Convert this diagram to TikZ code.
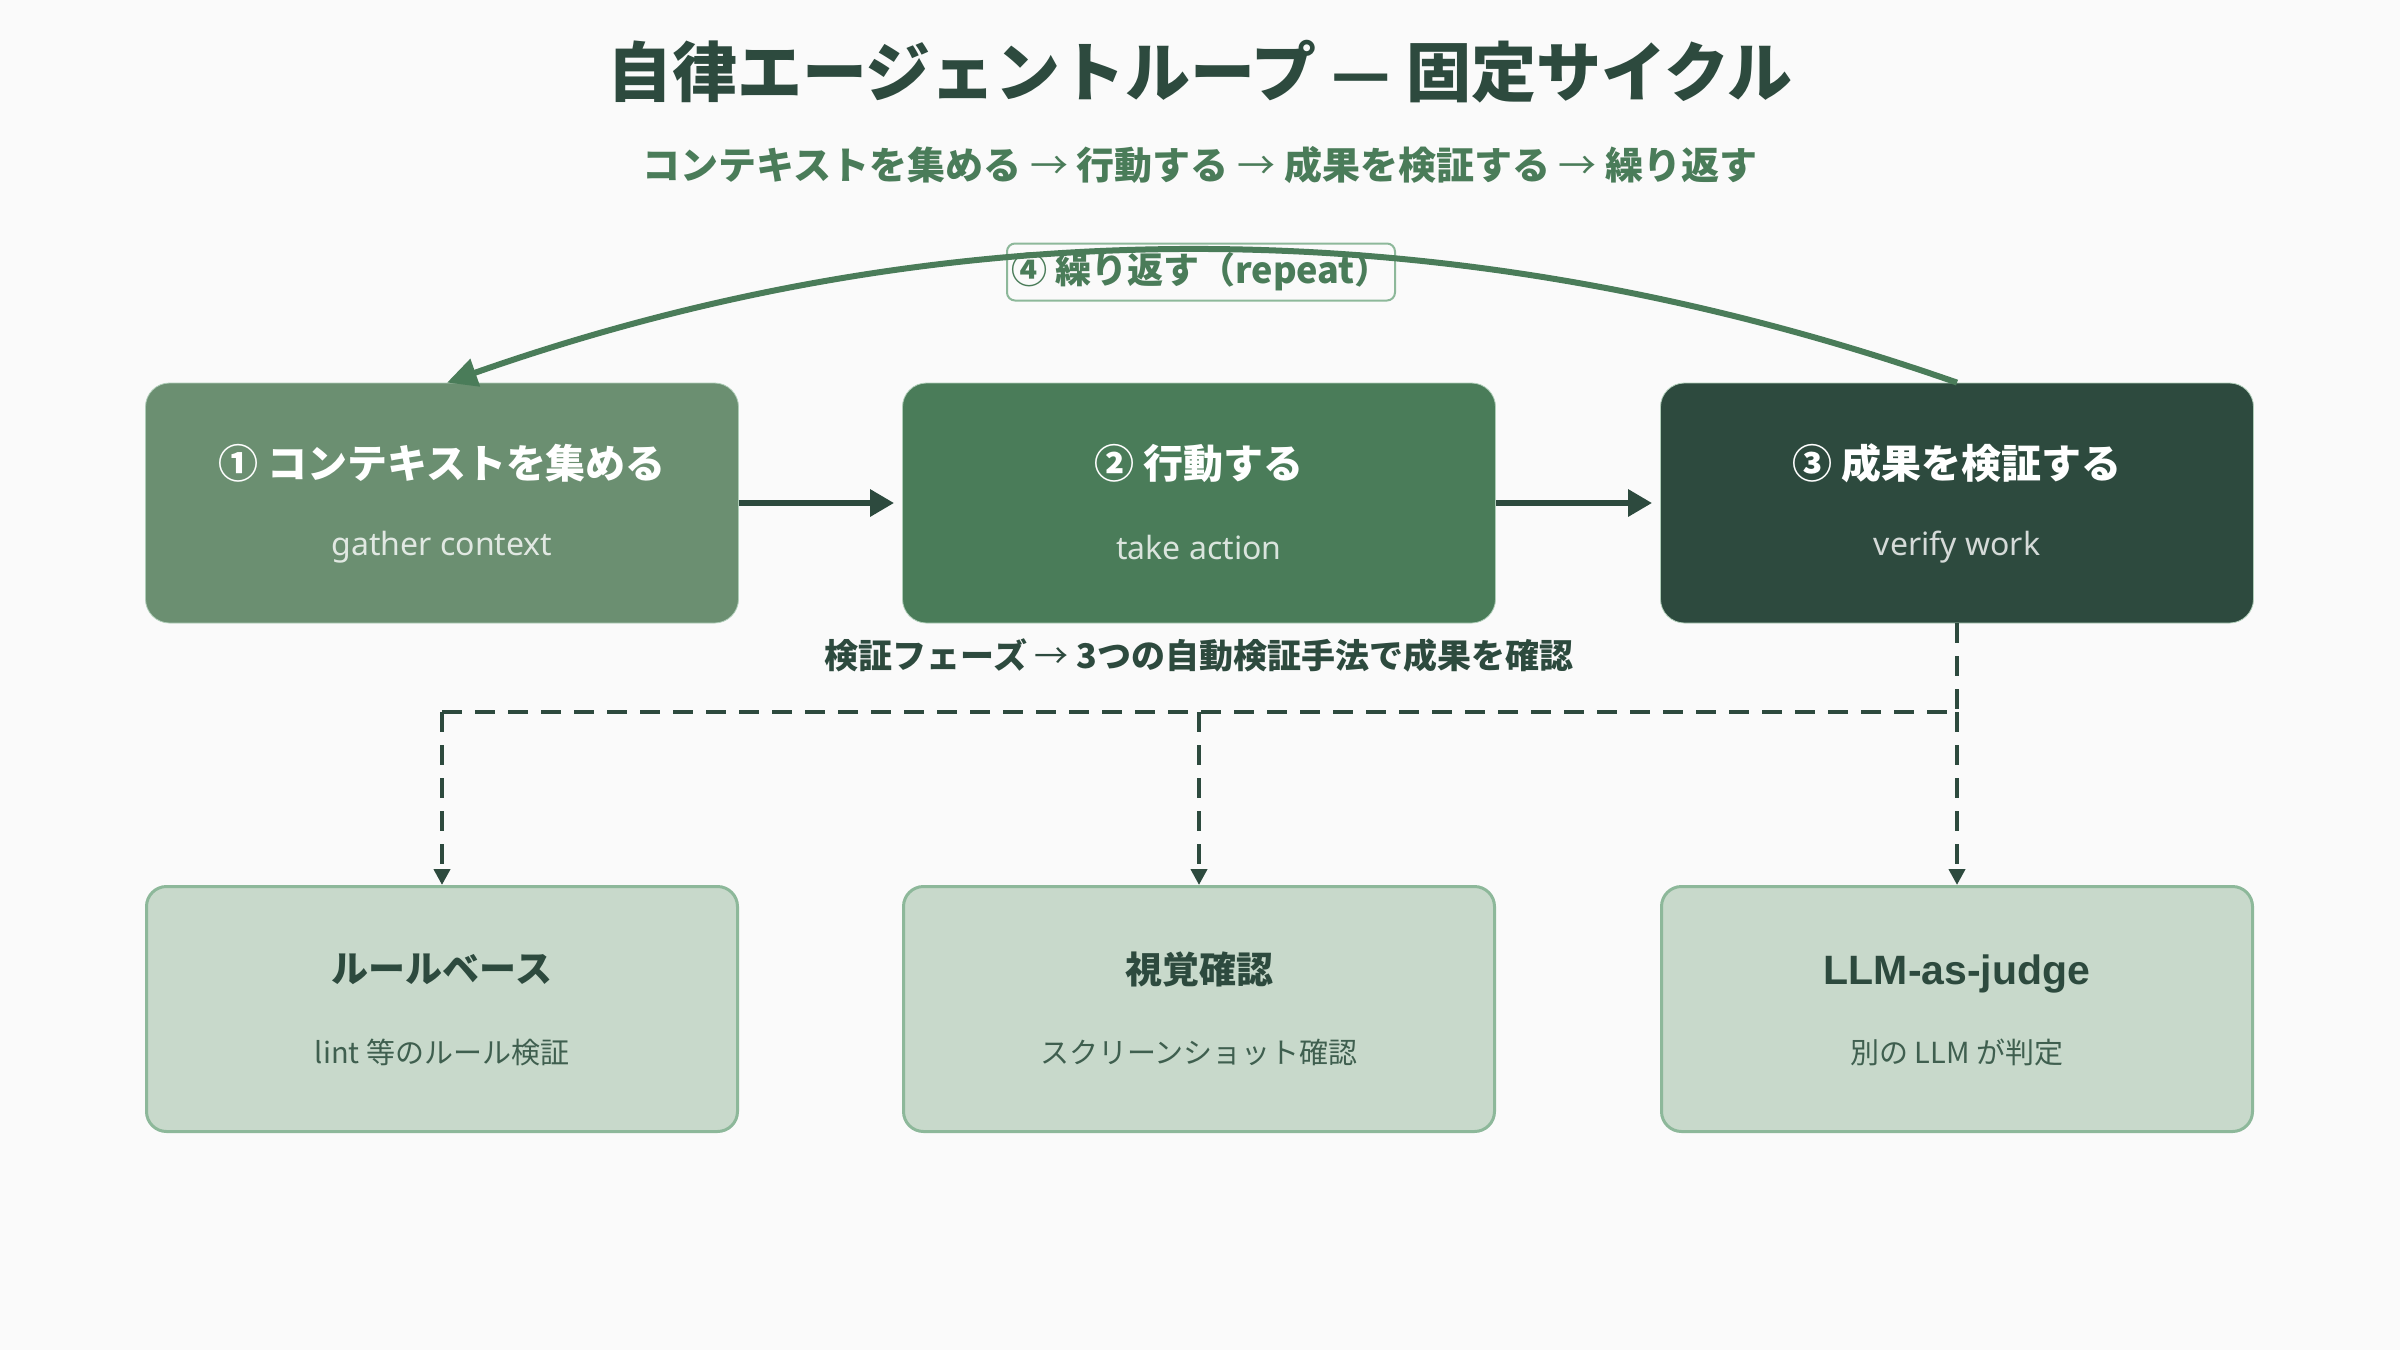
\documentclass[tikz,border=0pt]{standalone}
\usepackage{fontspec}
\setmainfont{Noto Sans CJK JP}
\newfontfamily\latf{Noto Sans}
\newfontfamily\latb{Liberation Sans}
\usetikzlibrary{arrows.meta}
\definecolor{bgc}{HTML}{FAFAFA}
\definecolor{dk}{HTML}{2D4A3E}
\definecolor{md}{HTML}{4A7C59}
\definecolor{lt}{HTML}{6B8F71}
\definecolor{pale}{HTML}{C8D9CB}
\definecolor{paleb}{HTML}{8DB89A}
\definecolor{subt}{HTML}{3F5F4F}
\newcommand{\thinarr}{{\mdseries →}}
\begin{document}
\begin{tikzpicture}[x=0.5pt,y=-0.5pt,
  topbox/.style={rounded corners=12pt, minimum width=296.5pt, minimum height=120pt, inner sep=0pt, draw=paleb!70, line width=0.4pt},
  botbox/.style={rounded corners=10pt, minimum width=295.5pt, minimum height=122.5pt, inner sep=0pt, fill=pale, draw=paleb, line width=1.5pt},
  toptitle/.style={text=white, font=\bfseries\fontsize{20}{24}\selectfont},
  topsub/.style={text=white, text opacity=0.8, font=\latf\fontsize{16}{19}\selectfont},
  bottitle/.style={text=dk, font=\bfseries\fontsize{18.5}{22}\selectfont},
  botsub/.style={text=subt, font=\fontsize{14.5}{17}\selectfont},
  flow/.style={draw=dk, line width=3pt, -{Triangle[length=12pt,width=13pt]}, shorten >=4pt},
  loopline/.style={draw=md, line width=3pt, -{Triangle[length=15pt,width=14pt]}},
  dashline/.style={draw=dk, line width=2pt, dash pattern=on 10pt off 6.5pt},
  dtip/.style={-{Triangle[length=8pt,width=8pt]}}
]
\fill[bgc] (0,0) rectangle (2400,1350);
\useasboundingbox (0,0) rectangle (2400,1350);

% titles
\node[text=dk, font=\bfseries\fontsize{32.5}{38}\selectfont] (title) at (1200,72) {自律エージェントループ — 固定サイクル};
\node[text=md, font=\bfseries\fontsize{19}{23}\selectfont] (subtitle) at (1200,165) {コンテキストを集める \thinarr{} 行動する \thinarr{} 成果を検証する \thinarr{} 繰り返す};

% top boxes
\node[topbox, fill=lt] (b1) at (442,503) {};
\node[topbox, fill=md] (b2) at (1199,503) {};
\node[topbox, fill=dk] (b3) at (1957,503) {};
\node[toptitle] (t1) at (442,463) {① コンテキストを集める};
\node[topsub] (s1) at (442,547) {gather context};
\node[toptitle] (t2) at (1199,463) {② 行動する};
\node[topsub] (s2) at (1199,547) {take action};
\node[toptitle] (t3) at (1957,463) {③ 成果を検証する};
\node[topsub] (s3) at (1957,547) {verify work};

\draw[flow] (b1.east) -- (b2.west);
\draw[flow] (b2.east) -- (b3.west);

% repeat label and loop arc
\node[draw=paleb, line width=1pt, fill=bgc, rounded corners=4pt, minimum width=194pt, minimum height=28.5pt, inner sep=0pt,
      text=md, font=\bfseries\fontsize{18}{21}\selectfont] (rep) at (1201,272) {④ 繰り返す（repeat）};
\draw[loopline] (b3.north) .. controls (1452,206) and (949,206) .. ([xshift=2.5pt]b1.north);

% phase label
\node[text=dk, font=\bfseries\fontsize{17}{20}\selectfont] (phase) at (1199,655) {検証フェーズ \thinarr{} 3つの自動検証手法で成果を確認};

% bottom boxes
\node[botbox] (v1) at (442,1009) {};
\node[botbox] (v2) at (1199,1009) {};
\node[botbox] (v3) at (1957,1009) {};
\node[bottitle] (vt1) at (442,969) {ルールベース};
\node[botsub] (vs1) at (442,1052) {lint 等のルール検証};
\node[bottitle] (vt2) at (1199,969) {視覚確認};
\node[botsub] (vs2) at (1199,1052) {スクリーンショット確認};
\node[bottitle, font=\latb\bfseries\fontsize{20.5}{24}\selectfont] (vt3) at (1957,974) {LLM-as-judge};
\node[botsub] (vs3) at (1957,1052) {別の LLM が判定};

% dashed connectors
\coordinate (j1) at (442,712);
\coordinate (j2) at (1199,712);
\coordinate (j3) at (1957,712);
\draw[dashline] (b3.south) -- (j3) -- (j1);
\draw[dashline, dtip] (j1) -- (v1.north);
\draw[dashline, dtip] (j2) -- (v2.north);
\draw[dashline, dtip] (j3) -- (v3.north);
\end{tikzpicture}
\end{document}
